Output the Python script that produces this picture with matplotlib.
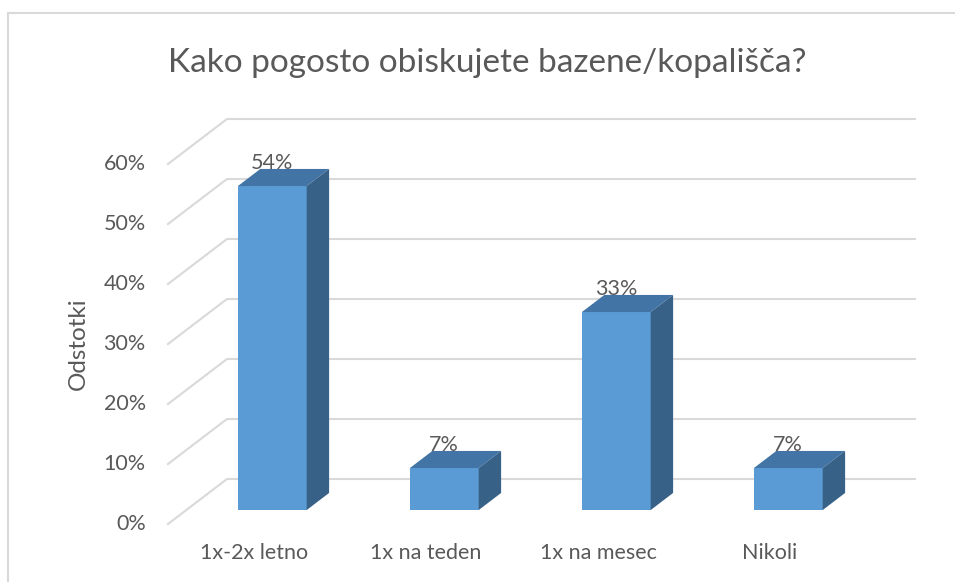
import matplotlib
matplotlib.use('Agg')
import matplotlib.pyplot as plt
from matplotlib.patches import Rectangle, Polygon

# Data
categories = ['1x-2x letno', '1x na teden', '1x na mesec', 'Nikoli']
values = [54, 7, 33, 7]
yticks = [0, 10, 20, 30, 40, 50, 60]

plt.rcParams['font.family'] = ['Lato', 'DejaVu Sans']
text_color = '#595959'
grid_color = '#D9D9D9'

# 3D look: depth offset of the back wall, in data units
depth_x = 0.343
depth_y = 7.5
bar_front, bar_back = 0.31, 0.69
bar_w = 0.4

fig = plt.figure(figsize=(9.55, 5.82), dpi=100)
ax = fig.add_axes([0, 0, 1, 1])
ax.set_xlim(-0.5 - 168 / 172, -0.5 + (955 - 168) / 172)
ax.set_ylim(-58 / 6, 524 / 6)
ax.axis('off')

# chart border
fig.add_artist(plt.Line2D([8 / 955, 1], [1 - 13 / 582] * 2, color=grid_color, lw=1.5))
fig.add_artist(plt.Line2D([8 / 955] * 2, [0, 1 - 13 / 582], color=grid_color, lw=1.5))

# gridlines on the back wall + diagonal on the side wall
n = len(categories)
for t in yticks:
    ax.plot([-0.5, -0.5 + depth_x, n - 0.5 + depth_x],
            [t, t + depth_y, t + depth_y], color=grid_color, lw=1.5, zorder=1)
    ax.text(-0.5 - 0.13, t, f'{t}%', ha='right', va='center',
            fontsize=15.5, color=text_color)

# bars
ddx = (bar_back - bar_front) * depth_x
ddy = (bar_back - bar_front) * depth_y
for i, v in enumerate(values):
    x0 = i - bar_w / 2 + bar_front * depth_x
    y0 = bar_front * depth_y
    ax.add_patch(Rectangle((x0, y0), bar_w, v, facecolor='#5B9BD5',
                           edgecolor='none', zorder=3))
    ax.add_patch(Polygon([(x0, y0 + v), (x0 + bar_w, y0 + v),
                          (x0 + bar_w + ddx, y0 + v + ddy), (x0 + ddx, y0 + v + ddy)],
                         facecolor='#4374A6', edgecolor='none', zorder=3))
    ax.add_patch(Polygon([(x0 + bar_w, y0), (x0 + bar_w + ddx, y0 + ddy),
                          (x0 + bar_w + ddx, y0 + v + ddy), (x0 + bar_w, y0 + v)],
                         facecolor='#386188', edgecolor='none', zorder=3))
    ax.text(i + bar_front * depth_x, v + bar_back * depth_y - 0.6, f'{v}%',
            ha='center', va='bottom', fontsize=15.5, color=text_color, zorder=4)
    ax.text(i, -4.8, categories[i], ha='center', va='center',
            fontsize=15.5, color=text_color)

ax.text(-0.5 - 90 / 172, 30, 'Odstotki', rotation=90, ha='center', va='center',
        fontsize=17.5, color=text_color)
fig.text(487 / 955, 1 - 63 / 582, 'Kako pogosto obiskujete bazene/kopališča?',
         ha='center', va='center', fontsize=24, color=text_color)

fig.savefig('out.png', dpi=100)
